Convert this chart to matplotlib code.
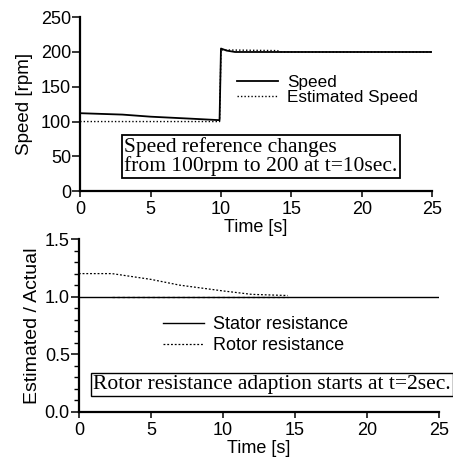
import matplotlib
matplotlib.use('Agg')
import matplotlib.pyplot as plt
from matplotlib.ticker import MultipleLocator, FormatStrFormatter

plt.rcParams['font.family'] = ['Liberation Sans', 'DejaVu Sans']
SERIF = ['Liberation Serif', 'DejaVu Serif']

# speed response
t_speed = [0, 3, 5, 8, 9.9, 10.0, 10.4, 11, 25]
speed = [112, 110, 107, 104, 102, 205, 202, 200, 200]
t_est = [0, 9.9, 10.0, 14, 14.2, 25]
est_speed = [100, 100, 203, 202, 200, 200]

# resistance estimation
t_stator = [0, 25]
stator = [1.0, 1.0]
t_rotor = [0, 2.3, 5, 7, 10, 12, 14.5]
rotor = [1.2, 1.2, 1.15, 1.1, 1.05, 1.02, 1.01]
t_rs_est = [2.3, 14.5]
rs_est = [0.995, 0.995]

fig = plt.figure(figsize=(4.53, 4.65), dpi=100)
ax1 = fig.add_axes([0.177, 0.589, 0.777, 0.374])
ax2 = fig.add_axes([0.174, 0.114, 0.795, 0.372])

for ax in (ax1, ax2):
    ax.spines['top'].set_visible(False)
    ax.spines['right'].set_visible(False)
    ax.spines['left'].set_linewidth(1.6)
    ax.spines['bottom'].set_linewidth(1.6)
    ax.tick_params(axis='y', direction='out', length=6, width=1.1, labelsize=13, pad=0.5)
    ax.tick_params(axis='x', direction='out', length=4.5, width=1.1, labelsize=13, pad=2.5)
    ax.set_xlim(0, 25)
    ax.xaxis.set_major_locator(MultipleLocator(5))
    ax.set_xlabel('Time [s]', fontsize=13, labelpad=1)

ax1.plot(t_speed, speed, color='black', lw=1.3, label='Speed')
ax1.plot(t_est, est_speed, color='black', lw=1.0, ls=(0, (1, 1.5)), label='Estimated Speed')
ax1.set_ylim(0, 250)
ax1.yaxis.set_major_locator(MultipleLocator(50))
ax1.set_ylabel('Speed [rpm]', fontsize=13.5, labelpad=6)
ax1.legend(loc='upper left', bbox_to_anchor=(0.446, 0.665), frameon=False,
           fontsize=12.3, handlelength=2.4, borderpad=0, borderaxespad=0,
           labelspacing=0.0, handletextpad=0.5)
ax1.text(0.125, 0.085, 'Speed reference changes\nfrom 100rpm to 200 at t=10sec.',
         transform=ax1.transAxes, family=SERIF,
         fontsize=15.5, ha='left', va='bottom', linespacing=0.95,
         bbox=dict(boxstyle='square,pad=0.1', fc='white', ec='black', lw=1.3))

ax2.plot(t_stator, stator, color='black', lw=1.0, label='Stator resistance')
ax2.plot(t_rotor, rotor, color='black', lw=0.9, ls=(0, (1.5, 1.5)), label='Rotor resistance')
ax2.plot(t_rs_est, rs_est, color='black', lw=0.9, ls=(0, (2, 2)))
ax2.set_ylim(0, 1.5)
ax2.yaxis.set_major_locator(MultipleLocator(0.5))
ax2.yaxis.set_minor_locator(MultipleLocator(0.1))
ax2.tick_params(axis='y', which='minor', direction='out', length=3.5, width=1.0)
ax2.yaxis.set_major_formatter(FormatStrFormatter('%.1f'))
ax2.set_ylabel('Estimated / Actual', fontsize=14, labelpad=3)
ax2.legend(loc='upper left', bbox_to_anchor=(0.233, 0.555), frameon=False,
           fontsize=13, handlelength=2.3, borderpad=0, borderaxespad=0,
           labelspacing=0.25, handletextpad=0.5)
ax2.text(0.04, 0.105, 'Rotor resistance adaption starts at t=2sec.',
         transform=ax2.transAxes, family=SERIF,
         fontsize=15.5, ha='left', va='bottom',
         bbox=dict(boxstyle='square,pad=0.1', fc='white', ec='black', lw=1.0))

fig.savefig('out.png', dpi=100)
